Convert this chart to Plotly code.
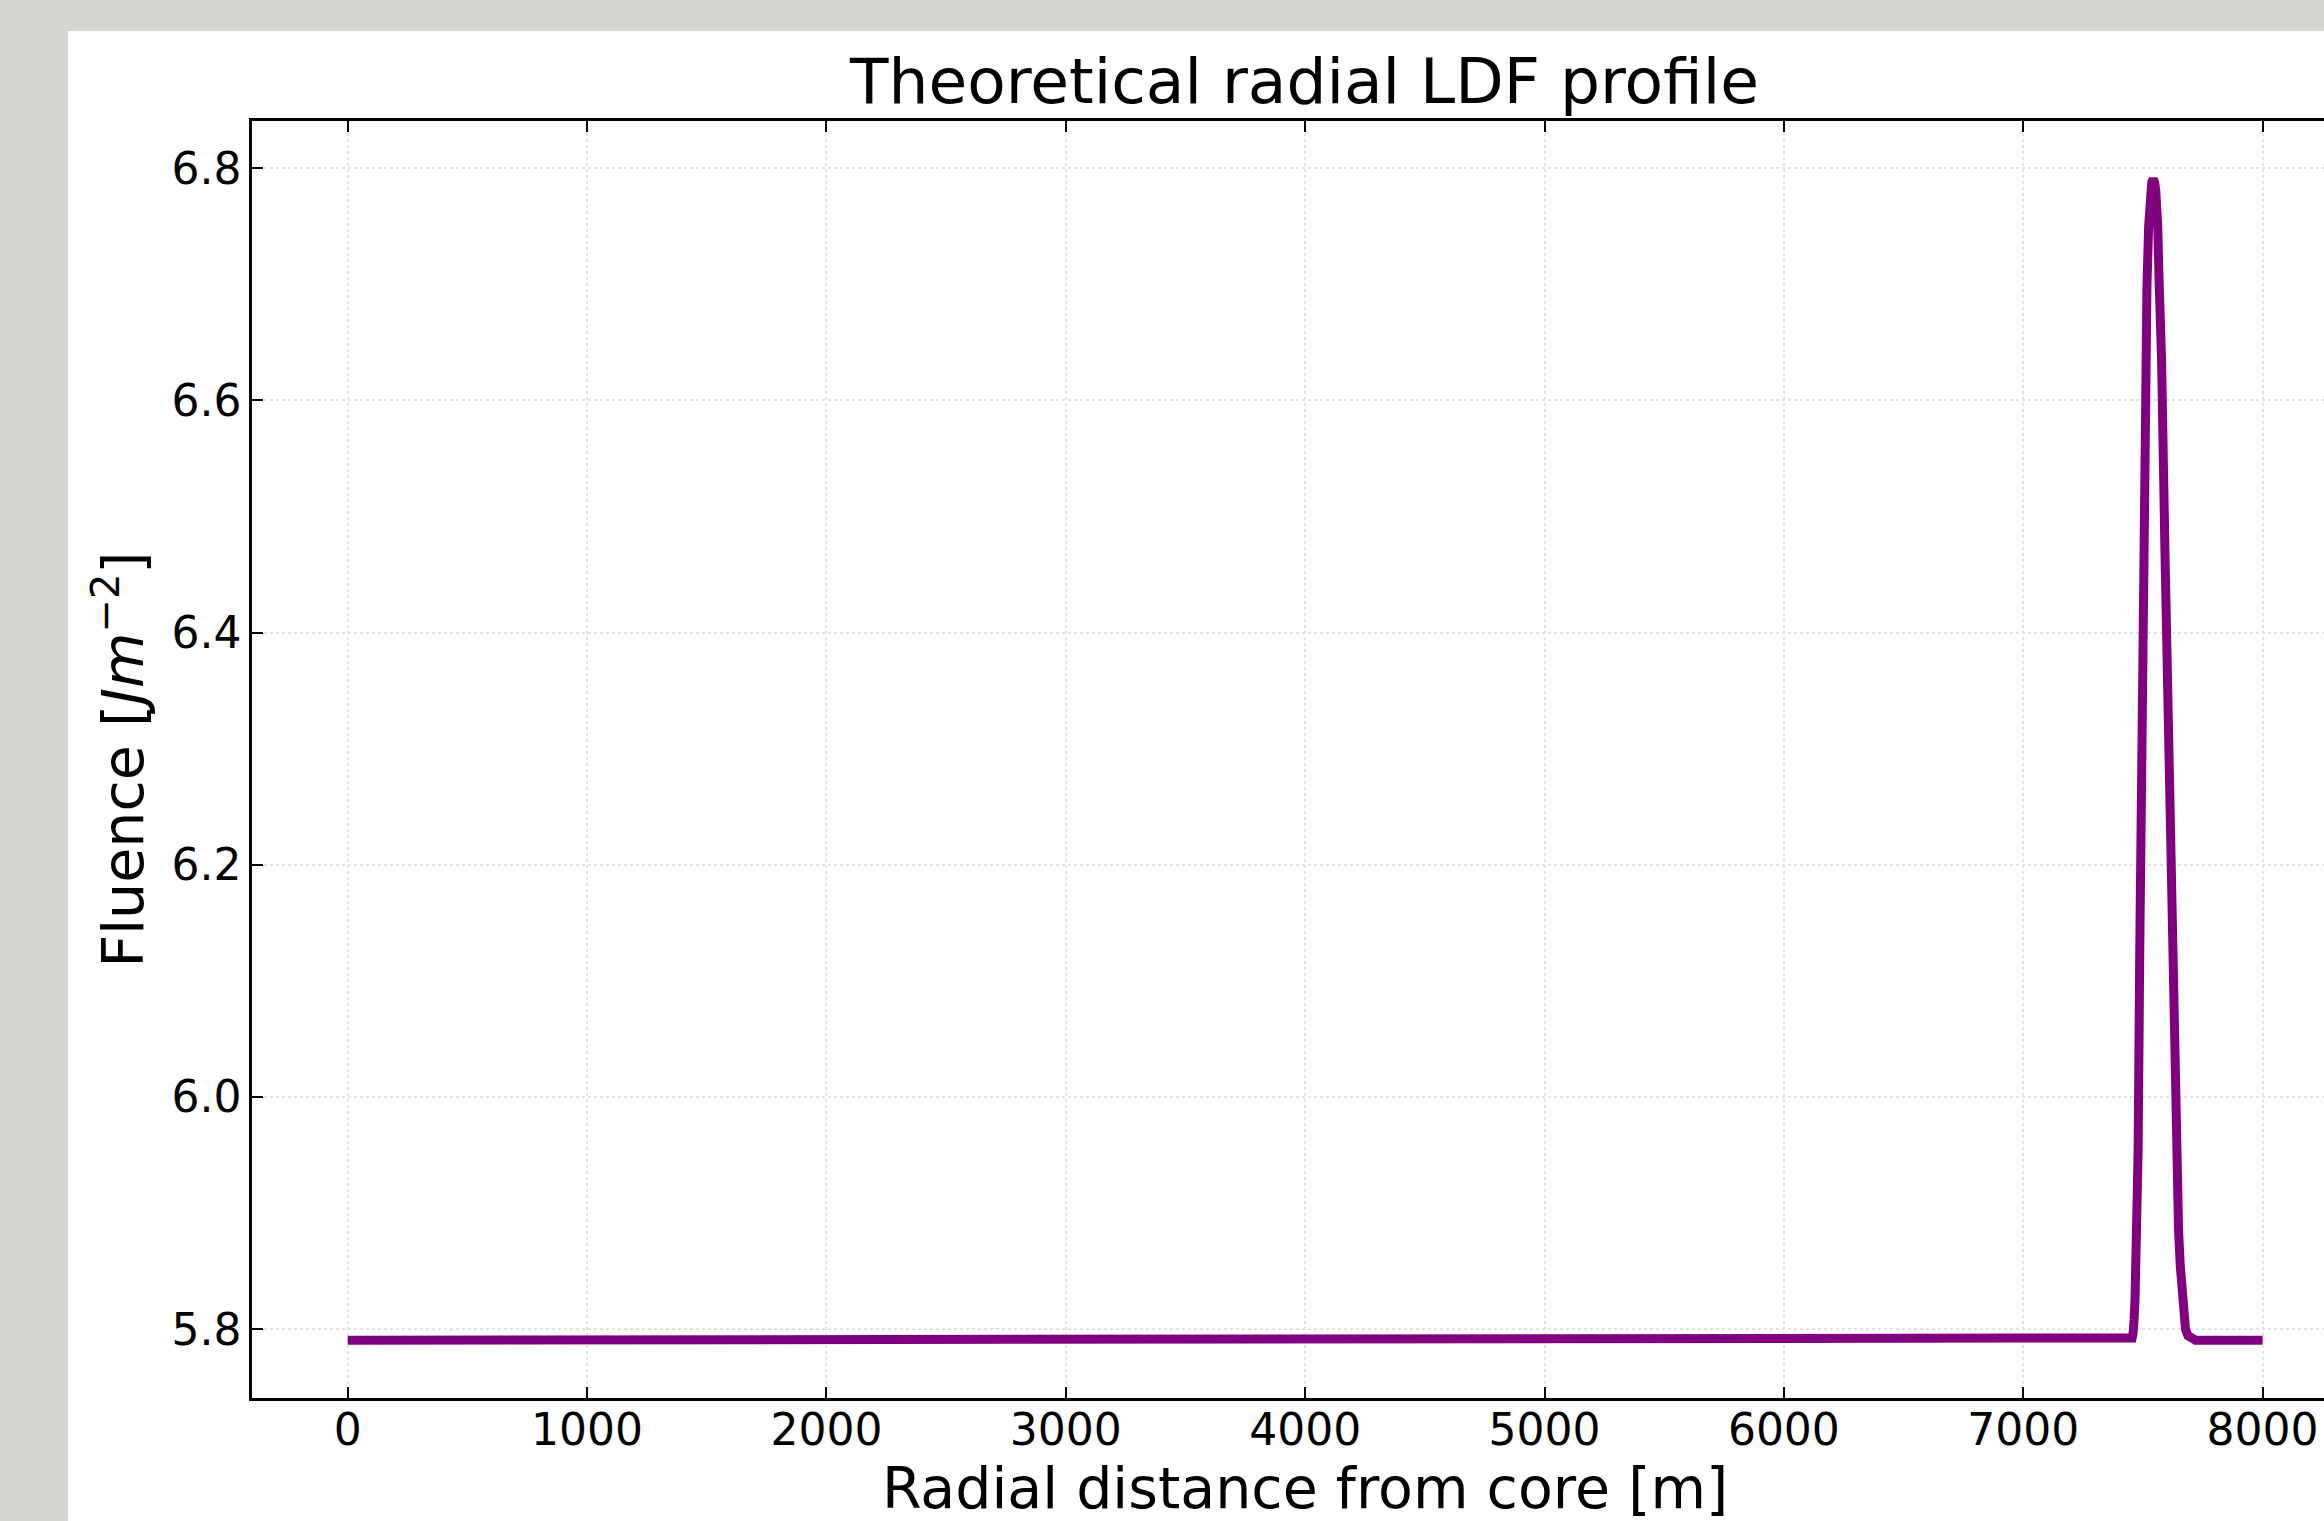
import plotly.graph_objects as go

# Data
radial_distance_m = [0, 1000, 2000, 3000, 4000, 5000, 6000, 7000, 7450,
                     7455, 7459, 7461, 7463, 7467, 7474, 7480, 7487, 7494, 7497, 7501,
                     7506, 7511, 7517, 7524, 7528, 7532, 7537, 7543, 7549, 7554, 7558,
                     7562, 7568, 7578, 7592, 7606, 7614, 7621, 7628, 7635, 7642, 7649,
                     7656, 7663, 7670, 7678, 7688, 7702, 7720, 8000]
fluence = [5.7906, 5.7906, 5.7906, 5.7906, 5.7906, 5.7906, 5.7906, 5.7906, 5.7906,
           5.7925, 5.797, 5.800, 5.808, 5.825, 5.868, 5.954, 6.13, 6.299, 6.385, 6.471,
           6.56, 6.635, 6.70, 6.75, 6.768, 6.78, 6.788, 6.7906, 6.788, 6.78, 6.768,
           6.75, 6.70, 6.635, 6.471, 6.299, 6.21, 6.13, 6.05, 5.98, 5.925, 5.885,
           5.855, 5.83, 5.812, 5.80, 5.7945, 5.7918, 5.7906, 5.7906]

x_ticks = [0, 1000, 2000, 3000, 4000, 5000, 6000, 7000, 8000]
y_ticks = [5.8, 6.0, 6.2, 6.4, 6.6, 6.8]

title_text = "Theoretical radial LDF profile"
x_title = "Radial distance from core [m]"
y_title = "Fluence [<i>Jm</i><sup>−2</sup>]"

W, H = 2324, 1521
ML, MT, MB, MR = 252, 121, 123, 0
plot_w = W - ML - MR
plot_h = H - MT - MB
AX_CENTER_PX = 1304.5  # centre of the full (partly cropped) axes box

FONT = "DejaVu Sans"

fig = go.Figure()
fig.add_trace(go.Scatter(
    x=radial_distance_m, y=fluence, mode="lines",
    line=dict(color="#800080", width=9),
    showlegend=False, hoverinfo="skip",
))

# white figure panel on grey page background
fig.add_shape(type="rect", xref="paper", yref="paper",
              x0=(68 - ML) / plot_w, x1=1.2,
              y0=-0.3, y1=(H - MB - 31) / plot_h,
              fillcolor="white", line=dict(width=0), layer="below")

# x-axis title, centred on the full axes box
fig.add_annotation(
    text=x_title, xref="paper", yref="paper",
    x=(AX_CENTER_PX - ML) / plot_w, y=-(1488 - (H - MB)) / plot_h,
    xanchor="center", yanchor="middle", showarrow=False,
    font=dict(family=FONT, size=57, color="black"),
)

axis_common = dict(
    showline=True, linecolor="black", linewidth=2.5,
    ticks="inside", ticklen=11, tickwidth=2, tickcolor="black",
    showgrid=True, gridcolor="#e3e3e3", gridwidth=1.5, griddash="dot",
    zeroline=False,
    tickfont=dict(family=FONT, size=44, color="black"),
)

fig.update_xaxes(
    range=[-400, 8256.6], tickvals=x_ticks, tickformat="d", mirror="allticks",
    ticklabelstandoff=-9,
    **axis_common,
)
fig.update_yaxes(
    range=[5.7408, 6.8407], tickvals=y_ticks, tickformat=".1f", mirror=False,
    title=dict(text=y_title, font=dict(family=FONT, size=57, color="black"), standoff=10),
    ticklabelstandoff=-1,
    **axis_common,
)

fig.update_layout(
    width=W, height=H,
    margin=dict(l=ML, r=MR, t=MT, b=MB, pad=0),
    paper_bgcolor="#d6d5d0", plot_bgcolor="white",
    title=dict(text=title_text, x=(AX_CENTER_PX / W), xanchor="center",
               y=1 - 81 / H, yanchor="middle",
               font=dict(family=FONT, size=63, color="black")),
    font=dict(family=FONT, color="black"),
)

fig.write_html("out.html", config={"displayModeBar": False})
